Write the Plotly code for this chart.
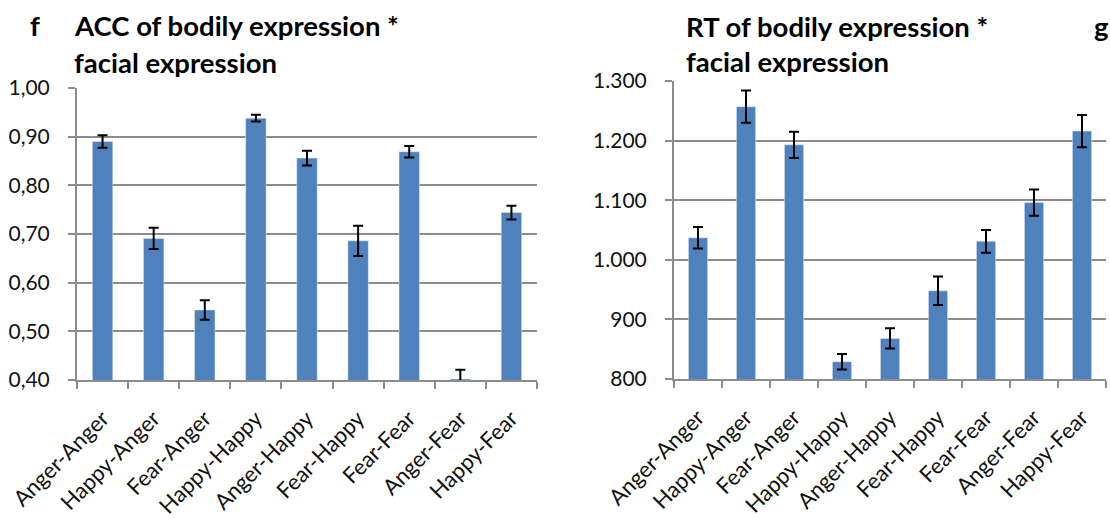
import plotly.graph_objects as go

categories = ["Anger-Anger", "Happy-Anger", "Fear-Anger", "Happy-Happy", "Anger-Happy",
              "Fear-Happy", "Fear-Fear", "Anger-Fear", "Happy-Fear"]

acc_values = [0.890, 0.691, 0.544, 0.938, 0.856, 0.686, 0.869, 0.402, 0.744]
acc_errors = [0.013, 0.022, 0.020, 0.007, 0.015, 0.031, 0.012, 0.019, 0.014]

rt_values = [1037, 1257, 1193, 829, 868, 948, 1031, 1096, 1216]
rt_errors = [18, 27, 22, 13, 17, 24, 19, 22, 27]

acc_ticks = [0.40, 0.50, 0.60, 0.70, 0.80, 0.90, 1.00]
rt_ticks = [800, 900, 1000, 1100, 1200, 1300]

acc_title = ["ACC of bodily expression *", "facial expression"]
rt_title = ["RT of bodily expression *", "facial expression"]

BAR = "#4F81BD"
GRID = "#8c8c8c"
FONT = "Lato"
W, H = 1110, 518

fig = go.Figure()
fig.add_trace(go.Bar(
    x=categories, y=acc_values, marker=dict(color=BAR),
    error_y=dict(type="data", array=acc_errors, color="black", thickness=2, width=5),
    xaxis="x", yaxis="y", showlegend=False))
fig.add_trace(go.Bar(
    x=categories, y=rt_values, marker=dict(color=BAR),
    error_y=dict(type="data", array=rt_errors, color="black", thickness=2, width=5),
    xaxis="x2", yaxis="y2", showlegend=False))

xcommon = dict(type="category", showgrid=False, showline=True, linecolor=GRID, linewidth=2,
               ticks="outside", tickson="boundaries", ticklen=7, tickcolor=GRID, tickwidth=2,
               tickangle=-45, tickfont=dict(family=FONT, size=22, color="#111"),
               ticklabelstandoff=15, automargin=False)
ycommon = dict(showgrid=True, gridcolor=GRID, gridwidth=1.5, showline=True, linecolor=GRID,
               linewidth=2, ticks="outside", ticklen=7, tickcolor=GRID, tickwidth=2,
               tickfont=dict(family=FONT, size=21, color="#111"), zeroline=False,
               ticklabelstandoff=14, automargin=False)

fig.update_layout(
    width=W, height=H, margin=dict(l=0, r=0, t=0, b=0, pad=0, autoexpand=False),
    paper_bgcolor="white", plot_bgcolor="white",
    separators=",.", bargap=0.6,
    xaxis=dict(domain=[77 / W, 537 / W], anchor="y", **xcommon),
    yaxis=dict(domain=[1 - 380 / H, 1 - 88 / H], anchor="x", range=[0.4, 1.0],
               tickvals=acc_ticks, tickformat=".2f", **ycommon),
    xaxis2=dict(domain=[674 / W, 1106 / W], anchor="y2", **xcommon),
    yaxis2=dict(domain=[1 - 379 / H, 1 - 81 / H], anchor="x2", range=[800, 1300],
                tickvals=rt_ticks, tickformat=",d", **ycommon),
)

tfont = dict(family=FONT, size=27.5, color="black")
anns = [
    dict(text="<b>f</b>", x=28 / W, y=1 - 7 / H, xanchor="left", yanchor="top"),
    dict(text="<b>" + acc_title[0] + "</b>", x=72 / W, y=1 - 7 / H, xanchor="left", yanchor="top"),
    dict(text="<b>" + acc_title[1] + "</b>", x=72 / W, y=1 - 44 / H, xanchor="left", yanchor="top"),
    dict(text="<b>" + rt_title[0] + "</b>", x=684 / W, y=1 - 8 / H, xanchor="left", yanchor="top"),
    dict(text="<b>" + rt_title[1] + "</b>", x=684 / W, y=1 - 43 / H, xanchor="left", yanchor="top"),
    dict(text="<b>g</b>", x=1092 / W, y=1 - 8 / H, xanchor="left", yanchor="top"),
]
for a in anns:
    fig.add_annotation(xref="paper", yref="paper", showarrow=False, font=tfont, **a)

fig.write_html("out.html", config={"displayModeBar": False},
               post_script="document.body.style.margin='0';document.body.style.overflow='hidden';")
